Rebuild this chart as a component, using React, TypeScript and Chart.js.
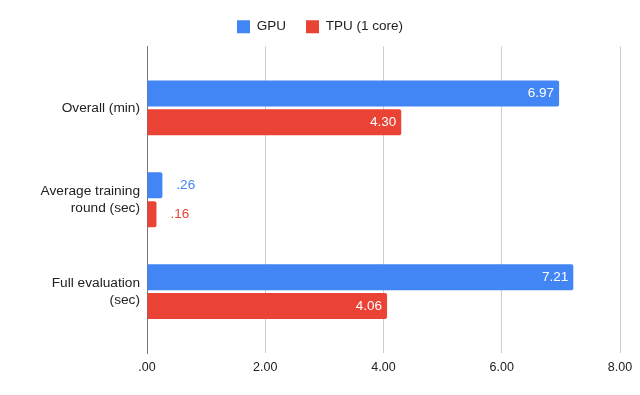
import React, { useEffect, useRef } from "react";
import { Chart, registerables } from "chart.js";

Chart.register(...registerables);

const categories = [["Overall (min)"], ["Average training", "round (sec)"], ["Full evaluation", "(sec)"]];
const gpuValues = [6.97, 0.26, 7.21];
const tpuValues = [4.30, 0.16, 4.06];
const seriesNames = ["GPU", "TPU (1 core)"];
const xTicks = [0, 2, 4, 6, 8];

const BLUE = "#4285F4";
const RED = "#EA4335";
const FONT = "'Liberation Sans', Arial, sans-serif";
const CAT_PAD = 0.168;

const fmt = (v: number) => {
  const s = v.toFixed(2);
  return s.startsWith("0") ? s.slice(1) : s;
};

const labelPlugin = {
  id: "barLabels",
  afterDatasetsDraw(chart: any) {
    const ctx = chart.ctx;
    ctx.save();
    ctx.font = `13.5px ${FONT}`;
    ctx.textBaseline = "middle";
    chart.data.datasets.forEach((ds: any, di: number) => {
      const meta = chart.getDatasetMeta(di);
      meta.data.forEach((el: any, i: number) => {
        const v = ds.data[i];
        const txt = fmt(v);
        if (v > 1) {
          ctx.fillStyle = "#ffffff";
          ctx.textAlign = "right";
          ctx.fillText(txt, el.x - 5, el.y);
        } else {
          ctx.fillStyle = ds.backgroundColor;
          ctx.textAlign = "left";
          ctx.fillText(txt, el.x + 14, el.y);
        }
      });
    });
    ctx.restore();
  },
};

const legendSpace = {
  id: "legendSpace",
  beforeInit(chart: any) {
    if (!chart.legend) return;
    const orig = chart.legend.fit;
    chart.legend.fit = function () {
      orig.call(this);
      this.height += 3;
    };
  },
};

export default function App() {
  const ref = useRef<HTMLCanvasElement>(null);
  useEffect(() => {
    document.body.style.margin = "0";
    const chart = new Chart(ref.current!, {
      type: "bar",
      data: {
        labels: categories as any,
        datasets: [
          {
            label: seriesNames[0],
            data: gpuValues,
            backgroundColor: BLUE,
            borderRadius: 2,
            categoryPercentage: 0.63,
            barPercentage: 0.9,
          },
          {
            label: seriesNames[1],
            data: tpuValues,
            backgroundColor: RED,
            borderRadius: 2,
            categoryPercentage: 0.63,
            barPercentage: 0.9,
          },
        ],
      },
      options: {
        indexAxis: "y",
        animation: false,
        responsive: false,
        layout: { padding: { left: 20, right: 20, top: 0, bottom: 13 } },
        plugins: {
          legend: {
            position: "top",
            labels: {
              boxWidth: 13,
              boxHeight: 13,
              padding: 20,
              color: "#222",
              font: { family: FONT, size: 13.5 },
            },
          },
          tooltip: { enabled: false },
        },
        scales: {
          x: {
            min: 0,
            max: 8,
            afterBuildTicks: (scale: any) => {
              scale.ticks = xTicks.map((v) => ({ value: v }));
            },
            ticks: {
              callback: (v: any) => fmt(Number(v)),
              color: "#222",
              font: { family: FONT, size: 12.5 },
              padding: 7,
            },
            grid: {
              color: (c: any) => (c.tick && c.tick.value === 0 ? "#777" : "#ccc"),
              drawTicks: false,
            },
            border: { display: false },
          },
          y: {
            afterBuildTicks: (scale: any) => {
              scale._startValue = -0.5 - CAT_PAD;
              scale._valueRange = categories.length + 2 * CAT_PAD;
            },
            afterFit: (scale: any) => {
              scale.width = 127;
            },
            ticks: {
              color: "#222",
              font: { family: FONT, size: 13.7 },
              padding: 7,
            },
            grid: { display: false, drawTicks: false },
            border: { display: true, color: "#777" },
          },
        },
      },
      plugins: [labelPlugin, legendSpace],
    } as any);
    return () => chart.destroy();
  }, []);
  return (
    <div style={{ width: 640, height: 395 }}>
      <canvas ref={ref} width={640} height={395} />
    </div>
  );
}
